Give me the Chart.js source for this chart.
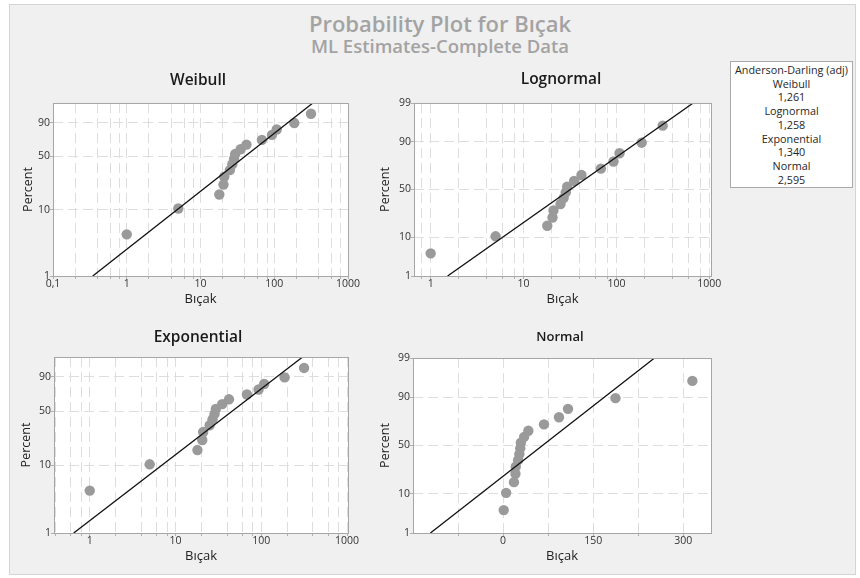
<!DOCTYPE html>
<html><head><meta charset="utf-8">
<script src="https://cdn.jsdelivr.net/npm/chart.js@4.4.1/dist/chart.umd.min.js"></script>
<style>
html,body{margin:0;padding:0;background:#fff;}
#wrap{position:relative;width:860px;height:578px;overflow:hidden;font-family:'Open Sans',sans-serif;}
#frame{position:absolute;left:9px;top:4px;width:845px;height:569px;background:#f0f0f0;border:1px solid #d4d4d4;}
canvas{position:absolute;left:0;top:0;}
.ttl{position:absolute;left:190px;width:500px;text-align:center;font-weight:600;color:#a3a3a3;white-space:nowrap;}
#t1{top:8px;font-size:22px;line-height:30px;}
#t2{top:33px;font-size:18.5px;line-height:25px;}
#legend{position:absolute;left:730px;top:61px;width:123px;height:127px;background:#fff;border:1px solid #a9a9a9;text-align:center;font-size:10.8px;line-height:13.7px;color:#262626;box-sizing:border-box;padding-top:1px;}
</style></head>
<body>
<div id="wrap">
  <div id="frame"></div>
  <div class="ttl" id="t1">Probability Plot for Bıçak</div>
  <div class="ttl" id="t2">ML Estimates-Complete Data</div>
  <canvas id="cW" width="860" height="578"></canvas>
  <canvas id="cL" width="860" height="578"></canvas>
  <canvas id="cE" width="860" height="578"></canvas>
  <canvas id="cN" width="860" height="578"></canvas>
  <div id="legend"></div>
</div>
<script>
// ---------- data ----------
const bicak = [1, 5, 18, 20.5, 21, 25, 27, 28.5, 29.5, 35, 42, 68, 93, 108, 187, 315];
const percentRank = [4.3, 10.4, 16.5, 22.6, 28.7, 34.8, 40.9, 47.0, 53.0, 59.1, 65.2, 71.3, 77.4, 83.5, 89.6, 95.7];
const fitPercent = [1, 99];
const weibullFitX = [0.346, 334];
const lognormalFitX = [1.52, 671];
const exponentialFitX = [0.65, 303];
const normalFitX = [-121, 252];
const logXTickValues = [0.1, 1, 10, 100, 1000];
const logXTickLabels = ['0,1', '1', '10', '100', '1000'];
const normalXTickValues = [0, 150, 300];
const normalXTickLabels = ['0', '150', '300'];
const normalXGrid = [-75, 0, 75, 150, 225, 300];
const pctTicksShort = [1, 10, 50, 90];
const pctTicksFull = [1, 10, 50, 90, 99];
const adTitle = 'Anderson-Darling (adj)';
const adNames = ['Weibull', 'Lognormal', 'Exponential', 'Normal'];
const adValues = ['1,261', '1,258', '1,340', '2,595'];

// ---------- legend box ----------
(function(){
  const el = document.getElementById('legend');
  let h = '<div>' + adTitle + '</div>';
  adNames.forEach((n, i) => { h += '<div>' + n + '</div><div>' + adValues[i] + '</div>'; });
  el.innerHTML = h;
})();

// ---------- probability transforms ----------
function probit(p){
  const a=[-3.969683028665376e+01,2.209460984245205e+02,-2.759285104469687e+02,1.383577518672690e+02,-3.066479806614716e+01,2.506628277459239e+00];
  const b=[-5.447609879822406e+01,1.615858368580409e+02,-1.556989798598866e+02,6.680131188771972e+01,-1.328068155288572e+01];
  const c=[-7.784894002430293e-03,-3.223964580411365e-01,-2.400758277161838e+00,-2.549671660259317e+00,4.374664141464968e+00,2.938163982698783e+00];
  const d=[7.784695709041462e-03,3.224671290700398e-01,2.445134137142996e+00,3.754408661907416e+00];
  const pl=0.02425, ph=1-pl; let q,r;
  if(p<pl){q=Math.sqrt(-2*Math.log(p));return (((((c[0]*q+c[1])*q+c[2])*q+c[3])*q+c[4])*q+c[5])/((((d[0]*q+d[1])*q+d[2])*q+d[3])*q+1);}
  if(p<=ph){q=p-0.5;r=q*q;return (((((a[0]*r+a[1])*r+a[2])*r+a[3])*r+a[4])*r+a[5])*q/(((((b[0]*r+b[1])*r+b[2])*r+b[3])*r+b[4])*r+1);}
  q=Math.sqrt(-2*Math.log(1-p));return -(((((c[0]*q+c[1])*q+c[2])*q+c[3])*q+c[4])*q+c[5])/((((d[0]*q+d[1])*q+d[2])*q+d[3])*q+1);
}
const tWeib = p => Math.log(-Math.log(1 - p / 100));
const tNorm = p => probit(p / 100);

function logGrid(min, max){
  const out = [];
  for (let e = -2; e <= 4; e++) for (const m of [1, 2, 4, 6, 8]) {
    const v = +(m * Math.pow(10, e)).toPrecision(6);
    if (v >= min * 0.999 && v <= max * 1.001) out.push(v);
  }
  return out;
}

Chart.defaults.font.family = "'Open Sans', sans-serif";
Chart.defaults.color = '#333';

const areaPlugin = {
  id: 'areaPlugin',
  beforeDraw(chart){
    const {ctx, chartArea: a} = chart;
    ctx.save(); ctx.fillStyle = '#fff'; ctx.fillRect(a.left, a.top, a.right - a.left, a.bottom - a.top); ctx.restore();
  },
  afterDraw(chart, args, o){
    const {ctx, chartArea: a} = chart;
    ctx.save();
    ctx.strokeStyle = '#a6a6a6'; ctx.lineWidth = 1;
    ctx.strokeRect(Math.round(a.left) + 0.5, Math.round(a.top) + 0.5, Math.round(a.right - a.left), Math.round(a.bottom - a.top));
    ctx.font = '600 ' + o.size + "px 'Open Sans', sans-serif";
    ctx.fillStyle = '#1a1a1a'; ctx.textAlign = 'center'; ctx.textBaseline = 'middle';
    ctx.fillText(o.text, o.x, o.y);
    ctx.restore();
  }
};

function makePanel(cfg){
  const A = cfg.area;
  const yT = cfg.yT;
  const isLog = cfg.xType === 'logarithmic';
  const grid = isLog ? logGrid(cfg.xMin, cfg.xMax) : cfg.xGrid;
  const pts = bicak.map((v, i) => ({x: v, y: yT(percentRank[i])}));
  const line = cfg.fitX.map((v, i) => ({x: v, y: yT(fitPercent[i])}));
  const yTicks = cfg.yTicks;
  const xScaleBottom = A.b + cfg.xH;
  const yLh = 12.5 * 1.2, xLh = 13 * 1.2;
  const yW = A.l - (cfg.percentX - yLh / 2);
  const zeroPad = s => { s.paddingLeft = 0; s.paddingRight = 0; s.paddingTop = 0; s.paddingBottom = 0; };
  new Chart(document.getElementById(cfg.id), {
    type: 'scatter',
    data: {datasets: [
      {data: line, showLine: true, borderColor: '#111', borderWidth: 1.3, pointRadius: 0, fill: false},
      {data: pts, showLine: false, backgroundColor: '#9a9a9a', borderWidth: 0, pointRadius: 5.2}
    ]},
    options: {
      responsive: false, animation: false, events: [],
      layout: {padding: {left: A.l - yW, top: A.t, right: 860 - A.r, bottom: 578 - A.b - cfg.xH}},
      plugins: {legend: {display: false}, tooltip: {enabled: false},
        areaPlugin: {text: cfg.title, x: cfg.titleX, y: cfg.titleY, size: cfg.titleSize}},
      scales: {
        x: {
          type: cfg.xType, min: cfg.xMin, max: cfg.xMax,
          afterBuildTicks: s => { s.ticks = grid.map(v => ({value: v})); s.min = cfg.xMin; s.max = cfg.xMax; },
          afterFit: s => { s.height = cfg.xH; zeroPad(s); },
          ticks: {autoSkip: false, maxRotation: 0, minRotation: 0, padding: 0, color: '#333',
            font: {size: 10.5, lineHeight: 1},
            callback: v => { const k = cfg.xLabelVals.findIndex(t => Math.abs(t - v) < 1e-6 * Math.max(1, Math.abs(t))); return k >= 0 ? cfg.xLabelTexts[k] : ''; }},
          grid: {color: '#dedede', lineWidth: 1, drawTicks: true, tickLength: 3, tickColor: '#b0b0b0', borderDash: [10, 5]},
          border: {display: false, dash: [10, 5]},
          title: {display: true, text: 'Bıçak', color: '#222', font: {size: 13},
            padding: {top: 0, bottom: xScaleBottom - xLh / 2 - cfg.bicakY}}
        },
        y: {
          type: 'linear', min: yT(1), max: yT(99),
          afterBuildTicks: s => { s.ticks = yTicks.map(p => ({value: yT(p)})); s.min = yT(1); s.max = yT(99); },
          afterFit: s => { s.width = yW; zeroPad(s); },
          ticks: {autoSkip: false, padding: 0, color: '#333', font: {size: 10.5},
            callback: (v, i) => String(yTicks[i])},
          grid: {color: '#dedede', lineWidth: 1, drawTicks: true, tickLength: 3, tickColor: '#b0b0b0', borderDash: [10, 5]},
          border: {display: false, dash: [10, 5]},
          title: {display: true, text: 'Percent', color: '#222', font: {size: 12.5}, padding: {top: 0, bottom: 0}}
        }
      }
    },
    plugins: [areaPlugin]
  });
}

makePanel({id: 'cW', title: 'Weibull', titleX: 198, titleY: 81, titleSize: 15.5,
  area: {l: 53, t: 103, r: 348, b: 276}, xH: 32, percentX: 28, bicakY: 299,
  xType: 'logarithmic', xMin: 0.1, xMax: 1000, xLabelVals: logXTickValues, xLabelTexts: logXTickLabels,
  yT: tWeib, yTicks: pctTicksShort, fitX: weibullFitX});
makePanel({id: 'cL', title: 'Lognormal', titleX: 561, titleY: 80, titleSize: 15.5,
  area: {l: 414, t: 103, r: 711, b: 276}, xH: 32, percentX: 385, bicakY: 299,
  xType: 'logarithmic', xMin: 0.661, xMax: 1043, xLabelVals: logXTickValues, xLabelTexts: logXTickLabels,
  yT: tNorm, yTicks: pctTicksFull, fitX: lognormalFitX});
makePanel({id: 'cE', title: 'Exponential', titleX: 198, titleY: 338, titleSize: 15.5,
  area: {l: 54, t: 357, r: 348, b: 533}, xH: 32, percentX: 26.7, bicakY: 556.7,
  xType: 'logarithmic', xMin: 0.383, xMax: 1025, xLabelVals: logXTickValues, xLabelTexts: logXTickLabels,
  yT: tWeib, yTicks: pctTicksShort, fitX: exponentialFitX});
makePanel({id: 'cN', title: 'Normal', titleX: 560, titleY: 337, titleSize: 13,
  area: {l: 413, t: 358, r: 711, b: 533}, xH: 32, percentX: 385, bicakY: 556.7,
  xType: 'linear', xMin: -150, xMax: 346, xGrid: normalXGrid, xLabelVals: normalXTickValues, xLabelTexts: normalXTickLabels,
  yT: tNorm, yTicks: pctTicksFull, fitX: normalFitX});
</script>
</body></html>
